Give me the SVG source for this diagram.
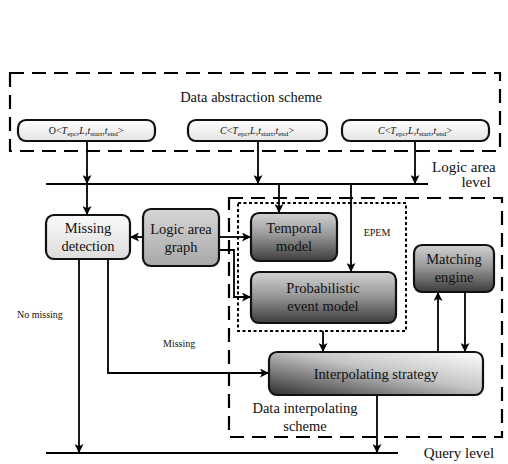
<svg xmlns="http://www.w3.org/2000/svg" width="508" height="464" viewBox="0 0 508 464">
  <defs>
    <marker id="arrow" viewBox="0 0 10 10" refX="10" refY="5" markerWidth="9" markerHeight="9" markerUnits="userSpaceOnUse" orient="auto">
      <path d="M0,0 L10,5 L0,10 L2.5,5 z" fill="#000"/>
    </marker>
    <linearGradient id="gLight" x1="0" y1="0" x2="0" y2="1">
      <stop offset="0" stop-color="#fafafa"/>
      <stop offset="1" stop-color="#dcdcdc"/>
    </linearGradient>
    <linearGradient id="gTuple" x1="0" y1="0" x2="0" y2="1">
      <stop offset="0" stop-color="#ffffff"/>
      <stop offset="1" stop-color="#e4e4e4"/>
    </linearGradient>
    <linearGradient id="gMid" x1="0" y1="0" x2="0" y2="1">
      <stop offset="0" stop-color="#d6d6d6"/>
      <stop offset="1" stop-color="#a8a8a8"/>
    </linearGradient>
    <linearGradient id="gDark" x1="0" y1="0" x2="0" y2="1">
      <stop offset="0" stop-color="#d2d2d2"/>
      <stop offset="0.45" stop-color="#9a9a9a"/>
      <stop offset="1" stop-color="#3c3c3c"/>
    </linearGradient>
    <linearGradient id="gSide" x1="0" y1="1" x2="1" y2="0">
      <stop offset="0" stop-color="#2e2e2e"/>
      <stop offset="0.55" stop-color="#c4c4c4"/>
      <stop offset="1" stop-color="#ffffff"/>
    </linearGradient>
    <style>
      text { font-family: "Liberation Serif", "Times New Roman", serif; fill: #111; }
      .lbl { font-size: 14.5px; text-anchor: middle; }
      .small { font-size: 10px; }
      .tuple { font-size: 10px; text-anchor: middle; }
      .it { font-style: italic; }
      .box { stroke: #111; stroke-width: 2.2; }
      .line { fill: none; stroke: #000; stroke-width: 1.8; }
      .dash { fill: none; stroke: #000; stroke-width: 2.2; stroke-dasharray: 14 8; }
      .dot { fill: none; stroke: #000; stroke-width: 2; stroke-dasharray: 3 2.5; }
      .mask { fill: #fff; }
    </style>
  </defs>

  <rect width="508" height="464" fill="#fff"/>

  <!-- scheme frames -->
  <g id="frames">
    <rect class="dash" x="10" y="73" width="490" height="78"/>
    <rect class="mask" x="175" y="86" width="152" height="20"/>
    <text class="lbl" x="251" y="102">Data abstraction scheme</text>
    <rect class="dash" x="229" y="198" width="273" height="239"/>
    <rect class="dot" x="238" y="203" width="168" height="128"/>
    <rect class="mask" x="358" y="223" width="40" height="18"/>
    <text class="small" x="377" y="236" text-anchor="middle">EPEM</text>
  </g>

  <!-- level labels -->
  <g id="levels">
    <rect class="mask" x="428" y="158" width="80" height="32"/>
    <text class="lbl" x="432" y="172" style="text-anchor:start;font-size:15px">Logic area</text>
    <text class="lbl" x="476" y="187" style="font-size:15px">level</text>
    <text class="lbl" x="459" y="458" style="font-size:15px">Query level</text>
  </g>

  <!-- connectors -->
  <g id="connectors">
    <line class="line" x1="46" y1="184" x2="428" y2="184"/>
    <line class="line" x1="46" y1="453" x2="398" y2="453"/>
    <line class="line" x1="87" y1="141" x2="87" y2="184" marker-end="url(#arrow)"/>
    <line class="line" x1="258" y1="141" x2="258" y2="184" marker-end="url(#arrow)"/>
    <line class="line" x1="415" y1="141" x2="415" y2="184" marker-end="url(#arrow)"/>
    <line class="line" x1="87" y1="184" x2="87" y2="215" marker-end="url(#arrow)"/>
    <line class="line" x1="279" y1="184" x2="279" y2="213" marker-end="url(#arrow)"/>
    <line class="line" x1="351" y1="184" x2="351" y2="272" marker-end="url(#arrow)"/>
    <line class="line" x1="143" y1="237" x2="130" y2="237" marker-end="url(#arrow)"/>
    <line class="line" x1="219" y1="237" x2="251" y2="237" marker-end="url(#arrow)"/>
    <polyline class="line" points="219,250 234,250 234,297 251,297" marker-end="url(#arrow)"/>
    <line class="line" x1="79" y1="259" x2="79" y2="453" marker-end="url(#arrow)"/>
    <polyline class="line" points="108,259 108,373 269,373" marker-end="url(#arrow)"/>
    <line class="line" x1="323" y1="331" x2="323" y2="352" marker-end="url(#arrow)"/>
    <line class="line" x1="438" y1="352" x2="438" y2="292" marker-end="url(#arrow)"/>
    <line class="line" x1="465" y1="292" x2="465" y2="352" marker-end="url(#arrow)"/>
    <line class="line" x1="377" y1="395" x2="377" y2="453" marker-end="url(#arrow)"/>
    <text class="small" x="17" y="318">No missing</text>
    <rect class="mask" x="150" y="331" width="63" height="24"/>
    <text class="small" x="163" y="347">Missing</text>
  </g>

  <!-- tuple records -->
  <g id="tuple1">
    <rect class="box" x="18" y="120" width="137" height="21" rx="8" fill="url(#gTuple)"/>
    <text class="tuple" x="86" y="134">O&lt;<tspan class="it">T</tspan><tspan font-size="7" dy="2">epc</tspan><tspan dy="-2">,</tspan><tspan class="it">L</tspan>,<tspan class="it">t</tspan><tspan font-size="7" dy="2">start</tspan><tspan dy="-2">,</tspan><tspan class="it">t</tspan><tspan font-size="7" dy="2">end</tspan><tspan dy="-2">&gt;</tspan></text>
  </g>
  <g id="tuple2">
    <rect class="box" x="188" y="120" width="139" height="21" rx="8" fill="url(#gTuple)"/>
    <text class="tuple" x="257" y="134"><tspan class="it">C</tspan>&lt;<tspan class="it">T</tspan><tspan font-size="7" dy="2">epc</tspan><tspan dy="-2">,</tspan><tspan class="it">L</tspan>,<tspan class="it">t</tspan><tspan font-size="7" dy="2">start</tspan><tspan dy="-2">,</tspan><tspan class="it">t</tspan><tspan font-size="7" dy="2">end</tspan><tspan dy="-2">&gt;</tspan></text>
  </g>
  <g id="tuple3">
    <rect class="box" x="342" y="120" width="147" height="21" rx="8" fill="url(#gTuple)"/>
    <text class="tuple" x="415" y="134"><tspan class="it">C</tspan>&lt;<tspan class="it">T</tspan><tspan font-size="7" dy="2">epc</tspan><tspan dy="-2">,</tspan><tspan class="it">L</tspan>,<tspan class="it">t</tspan><tspan font-size="7" dy="2">start</tspan><tspan dy="-2">,</tspan><tspan class="it">t</tspan><tspan font-size="7" dy="2">end</tspan><tspan dy="-2">&gt;</tspan></text>
  </g>

  <!-- processing nodes -->
  <g id="missing-detection">
    <rect class="box" x="46" y="215" width="84" height="44" rx="8" fill="url(#gLight)"/>
    <text class="lbl" x="88" y="233">Missing</text>
    <text class="lbl" x="88" y="251">detection</text>
  </g>
  <g id="logic-area-graph">
    <rect class="box" x="143" y="209" width="76" height="57" rx="8" fill="url(#gMid)"/>
    <text class="lbl" x="181" y="234">Logic area</text>
    <text class="lbl" x="181" y="252">graph</text>
  </g>
  <g id="temporal-model">
    <rect class="box" x="251" y="213" width="86" height="48" rx="8" fill="url(#gDark)"/>
    <text class="lbl" x="294" y="233">Temporal</text>
    <text class="lbl" x="294" y="251">model</text>
  </g>
  <g id="probabilistic-event-model">
    <rect class="box" x="251" y="272" width="145" height="51" rx="8" fill="url(#gDark)"/>
    <text class="lbl" x="323" y="293">Probabilistic</text>
    <text class="lbl" x="323" y="311">event model</text>
  </g>
  <g id="matching-engine">
    <rect class="box" x="414" y="245" width="80" height="47" rx="8" fill="url(#gDark)"/>
    <text class="lbl" x="454" y="264">Matching</text>
    <text class="lbl" x="454" y="282">engine</text>
  </g>
  <g id="interpolating-strategy">
    <rect class="box" x="269" y="352" width="214" height="43" rx="8" fill="url(#gSide)"/>
    <text class="lbl" x="376" y="379">Interpolating strategy</text>
  </g>

  <g id="scheme-caption">
    <text class="lbl" x="305" y="413">Data interpolating</text>
    <text class="lbl" x="305" y="431">scheme</text>
  </g>
</svg>
